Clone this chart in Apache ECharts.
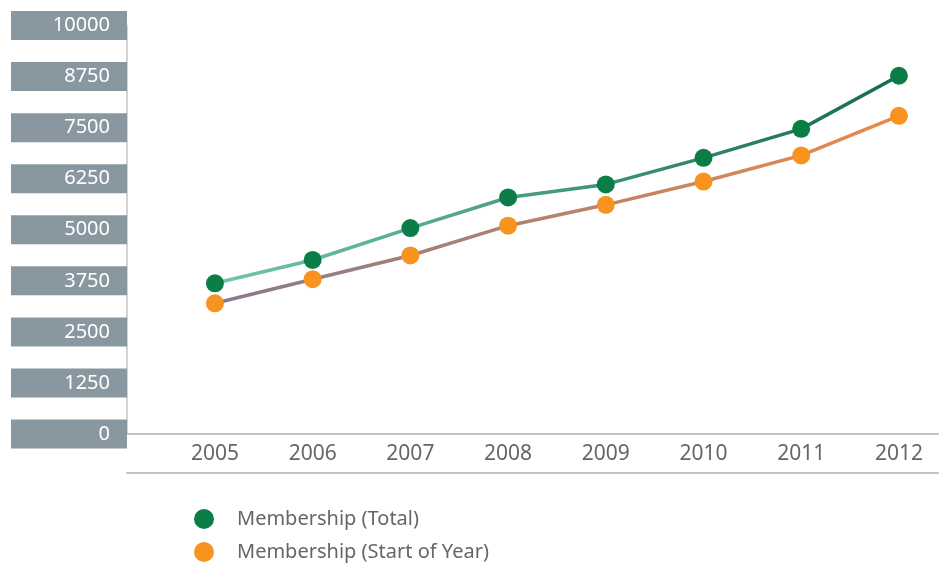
<!DOCTYPE html>
<html>
<head>
<meta charset="utf-8">
<script src="https://cdn.jsdelivr.net/npm/echarts@6/dist/echarts.min.js"></script>
<style>
html,body{margin:0;padding:0;background:#fff;}
#chart{width:939px;height:564px;}
</style>
</head>
<body>
<div id="chart"></div>
<script>
const years = [2005, 2006, 2007, 2008, 2009, 2010, 2011, 2012];
const totalValues = [3690, 4260, 5040, 5790, 6110, 6760, 7470, 8770];
const startValues = [3200, 3790, 4370, 5100, 5610, 6180, 6820, 7790];
const seriesNames = ['Membership (Total)', 'Membership (Start of Year)'];
const yTicks = [0, 1250, 2500, 3750, 5000, 6250, 7500, 8750, 10000];

const FONT = 'Noto Sans';
const chart = echarts.init(document.getElementById('chart'));

function pairs(vals) { return years.map((y, i) => [y, vals[i]]); }
function grad(a, b) {
  return { type: 'linear', x: 0, y: 0, x2: 1, y2: 0,
    colorStops: [{ offset: 0, color: a }, { offset: 1, color: b }] };
}

chart.setOption({
  animation: false,
  grid: { left: 127, right: 0, top: 25.5, bottom: 130 },
  legend: {
    orient: 'vertical', left: 194, top: 509, height: 80, itemGap: 13,
    itemWidth: 20, itemHeight: 20, icon: 'circle', padding: 0,
    textStyle: { color: '#666', fontSize: 20, fontFamily: FONT, padding: [0, 0, 0, 18], lineHeight: 20 },
    data: seriesNames
  },
  xAxis: [{
    type: 'value', min: 2004.1, max: 2012.41,
    axisLine: { show: true, lineStyle: { color: '#c4c4c4', width: 2 } },
    axisTick: { show: false },
    splitLine: { show: false },
    axisLabel: { customValues: years, color: '#666', fontSize: 21, fontFamily: FONT, margin: 10,
      formatter: v => String(v) }
  }, {
    type: 'value', min: 2004.1, max: 2012.41, position: 'bottom', offset: 39,
    axisLine: { show: true, onZero: false, lineStyle: { color: '#c4c4c4', width: 2 } },
    axisTick: { show: false }, axisLabel: { show: false }, splitLine: { show: false }
  }],
  yAxis: {
    type: 'value', min: 0, max: 10000, interval: 1250,
    axisLine: { show: true, lineStyle: { color: '#c4c4c4', width: 1.5 } },
    axisTick: { show: false },
    splitLine: { show: false },
    axisLabel: {
      margin: 0, color: '#fff', fontSize: 20, fontFamily: FONT,
      backgroundColor: '#8897a0', width: 99, height: 29, lineHeight: 29,
      padding: [0, 17, 0, 0], align: 'right',
      formatter: v => String(v)
    }
  },
  series: [{
    name: seriesNames[0], type: 'line', data: pairs(totalValues),
    symbol: 'circle', symbolSize: 18,
    itemStyle: { color: '#0b7d47' },
    lineStyle: { width: 3.5, color: grad('#72c6ae', '#146b4d') }
  }, {
    name: seriesNames[1], type: 'line', data: pairs(startValues),
    symbol: 'circle', symbolSize: 18,
    itemStyle: { color: '#f7931e' },
    lineStyle: { width: 3.5, color: grad('#857b8e', '#ea8a48') }
  }]
});
</script>
</body>
</html>
